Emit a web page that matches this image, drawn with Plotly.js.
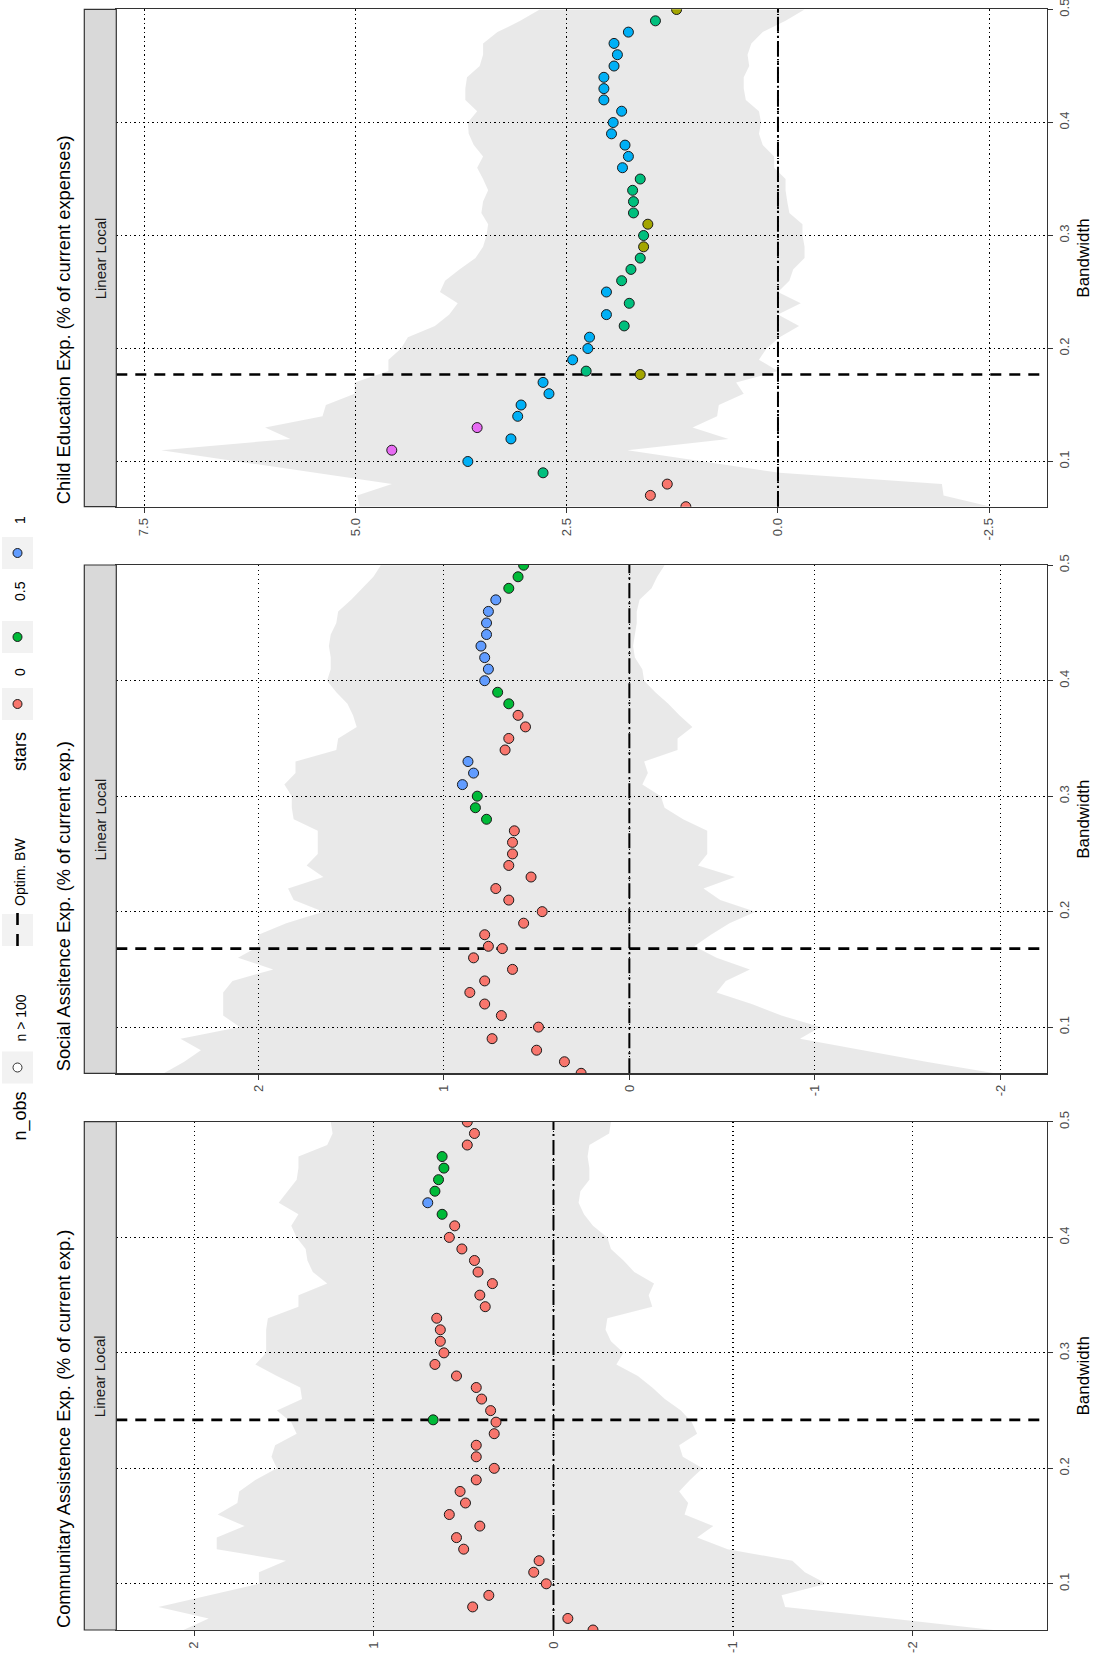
<!DOCTYPE html>
<html>
<head>
<meta charset="utf-8">
<script src="https://cdn.plot.ly/plotly-3.0.1.min.js"></script>
<style>html,body{margin:0;padding:0;background:#fff;}#chart{width:1096px;height:1659px;}</style>
</head>
<body>
<div id="chart"></div>
<script>
// ---------------- DATA ----------------
const bandwidth = [0.06,0.07,0.08,0.09,0.10,0.11,0.12,0.13,0.14,0.15,0.16,0.17,0.18,0.19,0.20,0.21,0.22,0.23,0.24,0.25,0.26,0.27,0.28,0.29,0.30,0.31,0.32,0.33,0.34,0.35,0.36,0.37,0.38,0.39,0.40,0.41,0.42,0.43,0.44,0.45,0.46,0.47,0.48,0.49,0.50];

const panelTitles = ["Communitary Assistence Exp. (% of current exp.)", "Social Assitence Exp. (% of current exp.)", "Child Education Exp. (% of current expenses)"];
const stripLabel = "Linear Local";
const bandwidthTicks = [0.1,0.2,0.3,0.4,0.5];
const bandwidthTickText = ["0.1","0.2","0.3","0.4","0.5"];

// Communitary Assistance
const commEst = [-0.22,-0.08,0.45,0.36,0.04,0.11,0.08,0.50,0.54,0.41,0.58,0.49,0.52,0.43,0.33,0.43,0.43,0.33,0.32,0.35,0.40,0.43,0.54,0.66,0.61,0.63,0.63,0.65,0.38,0.41,0.34,0.42,0.44,0.51,0.58,0.55,0.62,0.70,0.66,0.64,0.61,0.62,0.48,0.44,0.48];
const commStars = [0,0,0,0,0,0,0,0,0,0,0,0,0,0,0,0,0,0,0,0,0,0,0,0,0,0,0,0,0,0,0,0,0,0,0,0,1,2,1,1,1,1,0,0,0];
const commUpper = [2.06,1.92,2.20,1.92,1.64,1.64,1.49,1.875,1.875,1.72,1.87,1.76,1.75,1.66,1.54,1.57,1.55,1.43,1.46,1.54,1.40,1.41,1.54,1.66,1.60,1.60,1.60,1.59,1.42,1.42,1.26,1.34,1.37,1.38,1.43,1.46,1.42,1.53,1.48,1.43,1.42,1.42,1.26,1.23,1.24];
const commLower = [-2.45,-1.88,-1.29,-1.27,-1.52,-1.40,-1.33,-0.97,-0.80,-0.89,-0.73,-0.75,-0.70,-0.76,-0.83,-0.72,-0.70,-0.80,-0.77,-0.71,-0.62,-0.55,-0.47,-0.35,-0.39,-0.32,-0.29,-0.30,-0.55,-0.53,-0.56,-0.45,-0.39,-0.32,-0.30,-0.22,-0.17,-0.14,-0.15,-0.20,-0.20,-0.19,-0.20,-0.31,-0.32];
const commOptBW = 0.242, commOptEst = 0.67, commOptStar = 1;

// Social Assistance
const socEst = [0.26,0.35,0.50,0.74,0.49,0.69,0.78,0.86,0.78,0.63,0.84,0.76,0.78,0.57,0.47,0.65,0.72,0.53,0.65,0.63,0.63,0.62,0.77,0.83,0.82,0.90,0.84,0.87,0.67,0.65,0.56,0.60,0.65,0.71,0.78,0.76,0.78,0.80,0.77,0.77,0.76,0.72,0.65,0.60,0.57];
const socStars = [0,0,0,0,0,0,0,0,0,0,0,0,0,0,0,0,0,0,0,0,0,0,1,1,1,2,2,2,0,0,0,0,1,1,2,2,2,2,2,2,2,2,1,1,1];
const socUpper = [2.51,2.40,2.31,2.42,2.10,2.19,2.19,2.19,2.14,1.92,2.11,2.00,2.00,1.85,1.65,1.81,1.84,1.65,1.74,1.68,1.68,1.68,1.81,1.82,1.82,1.86,1.80,1.80,1.58,1.57,1.47,1.49,1.52,1.58,1.63,1.61,1.61,1.62,1.61,1.58,1.57,1.50,1.44,1.38,1.34];
const socLower = [-1.97,-1.60,-1.26,-0.92,-1.03,-0.82,-0.66,-0.47,-0.52,-0.65,-0.47,-0.35,-0.44,-0.54,-0.68,-0.49,-0.40,-0.57,-0.37,-0.42,-0.42,-0.42,-0.29,-0.19,-0.17,-0.07,-0.10,-0.08,-0.26,-0.26,-0.34,-0.27,-0.21,-0.14,-0.08,-0.07,-0.03,-0.02,-0.03,-0.04,-0.04,-0.055,-0.12,-0.15,-0.19];
const socOptBW = 0.168, socOptEst = 0.685, socOptStar = 0;

// Child Education
const childEst = [1.09,1.51,1.31,2.78,3.67,4.57,3.16,3.56,3.08,3.04,2.71,2.78,2.27,2.43,2.25,2.23,1.82,2.03,1.76,2.03,1.85,1.74,1.63,1.59,1.59,1.54,1.71,1.71,1.72,1.63,1.84,1.77,1.81,1.97,1.95,1.85,2.06,2.06,2.06,1.94,1.90,1.94,1.77,1.45,1.20];
const childStars = [0,0,0,2,3,4,3,4,3,3,3,3,2,3,3,3,2,3,2,3,2,2,2,1,2,1,2,2,2,2,3,3,3,3,3,3,3,3,3,3,3,3,3,2,1];
const childUpper = [4.95,4.98,4.57,5.47,6.35,7.30,5.77,6.07,5.39,5.35,5.01,5.01,4.61,4.61,4.46,4.38,4.06,3.89,3.79,4.00,3.94,3.77,3.58,3.49,3.45,3.43,3.51,3.49,3.43,3.49,3.56,3.49,3.60,3.66,3.67,3.56,3.70,3.70,3.68,3.53,3.49,3.49,3.32,3.05,2.82];
const childLower = [-2.52,-1.96,-1.94,-0.02,0.855,1.78,0.585,1.01,0.72,0.70,0.405,0.495,0.0,0.225,0.135,-0.02,-0.25,0.0,-0.27,0.0,-0.135,-0.18,-0.315,-0.315,-0.29,-0.29,-0.135,-0.11,-0.09,-0.09,0.045,0.045,0.18,0.225,0.20,0.225,0.38,0.405,0.405,0.34,0.36,0.315,0.18,-0.09,-0.315];
const childOptBW = 0.177, childOptEst = 1.63, childOptStar = 1;

// value-axis ticks
const commTicks = [-2,-1,0,1,2], commTickText = ["-2","-1","0","1","2"];
const socTicks = [-2,-1,0,1,2], socTickText = ["-2","-1","0","1","2"];
const childTicks = [-2.5,0,2.5,5,7.5], childTickText = ["-2.5","0.0","2.5","5.0","7.5"];

// colour palettes
const starLevels = ["0","0.5","1"];
const starColors3 = ["#F8766D","#00BA38","#619CFF"];
const starColors5 = ["#F8766D","#A3A500","#00BF7D","#00B0F6","#E76BF3"];
const legendTitleObs = "n_obs", legendLabelObs = "n &gt; 100";
const legendLabelBW = "Optim. BW", legendTitleStars = "stars";

// ---------------- LAYOUT HELPERS ----------------
const W = 1096, H = 1659;
const px = v => v / W;
const py = v => 1 - v / H;
const FONT = "Liberation Sans, Arial, Helvetica, sans-serif";

const dataLeft = 116.3, dataRight = 1046.7, stripLeft = 84.3;
const panels = [
  {est: commEst, stars: commStars, up: commUpper, lo: commLower, optBW: commOptBW, optEst: commOptEst, optStar: commOptStar, pal: starColors3,
   range: [2.434, -2.746], ticks: commTicks, tickText: commTickText, top: 1121.7, bottom: 1630, title: panelTitles[0]},
  {est: socEst, stars: socStars, up: socUpper, lo: socLower, optBW: socOptBW, optEst: socOptEst, optStar: socOptStar, pal: starColors3,
   range: [2.766, -2.25], ticks: socTicks, tickText: socTickText, top: 565, bottom: 1073.3, title: panelTitles[1]},
  {est: childEst, stars: childStars, up: childUpper, lo: childLower, optBW: childOptBW, optEst: childOptEst, optStar: childOptStar, pal: starColors5,
   range: [7.83, -3.18], ticks: childTicks, tickText: childTickText, top: 9.3, bottom: 506.7, title: panelTitles[2]}
];

const traces = [];
const shapes = [];
const annotations = [];
const layout = {
  width: W, height: H,
  margin: {l: 0, r: 0, t: 0, b: 0},
  paper_bgcolor: "#ffffff", plot_bgcolor: "#ffffff",
  showlegend: false,
  font: {family: FONT, color: "#000"},
  shapes: shapes, annotations: annotations
};

panels.forEach((p, i) => {
  const n = i === 0 ? "" : String(i + 1);
  const xa = "x" + n, ya = "y" + n;
  layout["xaxis" + n] = {
    domain: [px(dataLeft), px(dataRight)], anchor: ya, range: p.range,
    tickmode: "array", tickvals: p.ticks, ticktext: p.tickText, tickangle: -90,
    ticks: "outside", ticklen: 5, tickwidth: 1, tickcolor: "#333333",
    tickfont: {family: FONT, size: 13, color: "#4D4D4D"},
    showgrid: true, gridcolor: "#000000", gridwidth: 1.2, griddash: "1.2px,3.3px",
    showline: true, linecolor: "#333333", linewidth: 1.2, mirror: true,
    zeroline: false, fixedrange: true
  };
  layout["yaxis" + n] = {
    domain: [py(p.bottom), py(p.top)], anchor: xa, side: "right", range: [0.06, 0.5002],
    tickmode: "array", tickvals: bandwidthTicks, ticktext: bandwidthTickText, tickangle: -90,
    ticks: "outside", ticklen: 5, tickwidth: 1, tickcolor: "#333333", ticklabeloverflow: "allow",
    tickfont: {family: FONT, size: 13, color: "#4D4D4D"},
    showgrid: true, gridcolor: "#000000", gridwidth: 1.2, griddash: "1.2px,3.3px",
    showline: true, linecolor: "#333333", linewidth: 1.2, mirror: true,
    zeroline: false, fixedrange: true,
    title: {text: "Bandwidth", font: {family: FONT, size: 17, color: "#000"}, standoff: 6}
  };

  // confidence ribbon
  traces.push({
    type: "scatter", mode: "lines", xaxis: xa, yaxis: ya,
    x: p.up.concat(p.lo.slice().reverse()),
    y: bandwidth.concat(bandwidth.slice().reverse()),
    fill: "toself", fillcolor: "rgba(0,0,0,0.085)", line: {width: 0, color: "rgba(0,0,0,0)"},
    hoverinfo: "skip"
  });
  // estimates
  traces.push({
    type: "scatter", mode: "markers", xaxis: xa, yaxis: ya,
    x: p.est, y: bandwidth, cliponaxis: true,
    marker: {size: 10, color: p.stars.map(s => p.pal[s]), line: {color: "#1a1a1a", width: 1}}
  });
  // estimate at optimal bandwidth
  traces.push({
    type: "scatter", mode: "markers", xaxis: xa, yaxis: ya,
    x: [p.optEst], y: [p.optBW], cliponaxis: true,
    marker: {size: 10, color: p.pal[p.optStar], line: {color: "#1a1a1a", width: 1}}
  });

  // zero reference line
  shapes.push({type: "line", layer: "below", xref: xa, yref: ya + " domain", x0: 0, x1: 0, y0: 0, y1: 1,
    line: {color: "#000", width: 2, dash: "15px,4px,2px,4px"}});
  // optimal bandwidth line
  shapes.push({type: "line", layer: "below", xref: xa + " domain", yref: ya, x0: 0, x1: 1, y0: p.optBW, y1: p.optBW,
    line: {color: "#000", width: 2.6, dash: "11px,8px"}});
  // facet strip
  shapes.push({type: "rect", layer: "above", xref: "paper", yref: "paper",
    x0: px(stripLeft), x1: px(dataLeft), y0: py(p.bottom), y1: py(p.top),
    fillcolor: "#D9D9D9", line: {color: "#333333", width: 1.2}});
  annotations.push({xref: "paper", yref: "paper", x: px((stripLeft + dataLeft) / 2), y: py((p.top + p.bottom) / 2),
    xanchor: "center", yanchor: "middle", textangle: -90, showarrow: false, text: stripLabel,
    font: {family: FONT, size: 15, color: "#1A1A1A"}});
  // panel title
  annotations.push({xref: "paper", yref: "paper", x: px(63), y: py(p.bottom),
    xanchor: "center", yanchor: "bottom", textangle: -90, showarrow: false, text: p.title,
    font: {family: FONT, size: 18.3, color: "#000"}});
});

// ---------------- LEGEND (rotated) ----------------
const keyX0 = 2, keyX1 = 33, keyCX = 17.5;
function keyBox(yc) {
  shapes.push({type: "rect", xref: "paper", yref: "paper", x0: px(keyX0), x1: px(keyX1), y0: py(yc + 16), y1: py(yc - 16),
    fillcolor: "#F2F2F2", line: {width: 0}});
}
function keyDot(yc, color, fill) {
  shapes.push({type: "circle", xref: "paper", yref: "paper", x0: px(keyCX - 4.5), x1: px(keyCX + 4.5), y0: py(yc + 4.5), y1: py(yc - 4.5),
    fillcolor: fill, line: {color: color, width: 1}});
}
function legText(yc, txt, size, anchor) {
  annotations.push({xref: "paper", yref: "paper", x: px(20), y: py(yc), xanchor: "center", yanchor: anchor || "middle",
    textangle: -90, showarrow: false, text: txt, font: {family: FONT, size: size, color: "#000"}});
}
// n_obs
legText(1090, legendTitleObs, 18, "top");
keyBox(1067.5); keyDot(1067.5, "#333333", "#ffffff");
legText(1044, legendLabelObs, 14, "bottom");
// optimal bandwidth
keyBox(930);
shapes.push({type: "line", xref: "paper", yref: "paper", x0: px(keyCX), x1: px(keyCX), y0: py(946), y1: py(913),
  line: {color: "#000", width: 2.6, dash: "12px,9px"}});
legText(908, legendLabelBW, 14, "bottom");
// stars
legText(752, legendTitleStars, 18);
const starKeyY = [704, 637, 553], starTextY = [672, 591, 520];
starLevels.forEach((lv, k) => {
  keyBox(starKeyY[k]); keyDot(starKeyY[k], "#1a1a1a", starColors3[k]);
  legText(starTextY[k], lv, 14);
});

Plotly.newPlot("chart", traces, layout, {staticPlot: true, displayModeBar: false});
</script>
</body>
</html>
